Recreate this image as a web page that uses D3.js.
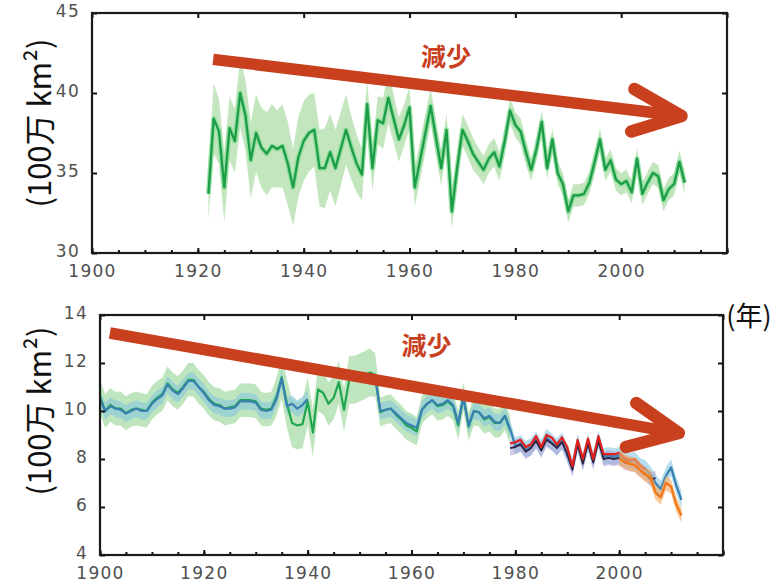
<!DOCTYPE html>
<html><head><meta charset="utf-8">
<script src="https://cdn.jsdelivr.net/npm/d3@7"></script>
<style>
html,body{margin:0;padding:0;background:#fff;}
svg{display:block;}
.tick text{font-family:"DejaVu Sans",sans-serif;font-size:17px;letter-spacing:1.3px;fill:#505050;}
</style></head>
<body>
<svg id="c" width="784" height="583"></svg>
<script>
// ---------- DATA ----------
// Top panel: 1922-2012
const topStart = 1922;
const topVals = [
33.7, 38.4, 37.6, 34.1, 37.8, 37.0, 40.0, 38.6, 35.8, 37.5,
36.6, 36.2, 36.7, 36.5, 36.7, 35.6, 34.1, 36.0, 37.0, 37.5,
37.7, 35.3, 35.3, 36.3, 35.3, 36.5, 37.7, 36.6, 35.6, 34.9,
39.3, 35.3, 38.3, 38.1, 39.7, 38.4, 37.1, 38.0, 39.1, 34.1,
35.8, 37.5, 39.2, 37.2, 35.3, 37.7, 32.6, 35.3, 37.7, 37.0,
36.2, 35.7, 35.2, 35.9, 36.3, 35.4, 37.0, 38.9, 38.0, 37.6,
36.3, 35.2, 36.5, 38.2, 35.3, 37.1, 35.0, 34.3, 32.6, 33.6,
33.6, 33.7, 34.4, 35.7, 37.1, 35.2, 35.8, 34.6, 34.3, 34.5,
33.8, 35.9, 33.7, 34.4, 35.0, 34.8, 33.3, 34.0, 34.3, 35.7,
34.4];
const topSpread = [
1.6, 2.2, 2.0, 2.2, 2.0, 2.0, 2.2, 2.2, 2.4, 2.4,
2.5, 2.6, 2.6, 2.4, 2.6, 2.6, 2.4, 2.5, 2.5, 2.4,
2.3, 2.4, 2.5, 2.4, 2.4, 2.3, 2.2, 2.0, 1.8, 1.6,
1.5, 1.4, 1.5, 1.6, 1.6, 1.5, 1.4, 1.3, 1.3, 1.2,
1.2, 1.2, 1.1, 1.1, 1.1, 1.0, 1.1, 1.0, 1.0, 1.0,
1.0, 0.9, 0.9, 0.9, 0.9, 0.9, 0.8, 0.8, 0.8, 0.8,
0.8, 0.7, 0.7, 0.7, 0.7, 0.7, 0.7, 0.7, 0.7, 0.7,
0.7, 0.7, 0.7, 0.7, 0.7, 0.7, 0.7, 0.7, 0.7, 0.7,
0.7, 0.7, 0.7, 0.7, 0.7, 0.7, 0.7, 0.7, 0.7, 0.7,
0.7];

// Bottom panel
const greenStart = 1900; // 1900-1979
const greenVals = [
10.6, 10.0, 10.25, 10.1, 10.1, 9.9, 10.05, 10.1, 10.05, 10.0,
10.35, 10.55, 10.7, 11.15, 10.9, 10.75, 11.0, 11.3, 11.3, 11.0,
10.8, 10.5, 10.3, 10.25, 10.1, 10.15, 10.2, 10.45, 10.45, 10.45,
10.4, 10.1, 10.05, 10.1, 10.6, 11.4, 10.3, 9.5, 9.4, 9.45,
10.4, 9.1, 10.9, 10.75, 10.3, 10.55, 11.2, 10.05, 11.3, 11.3,
11.4, 11.5, 11.6, 11.5, 9.95, 10.05, 10.1, 9.85, 9.65, 9.4,
9.3, 9.15, 10.05, 10.3, 10.45, 10.2, 10.25, 10.4, 10.2, 9.4,
10.6, 9.35, 10.0, 9.95, 9.65, 9.75, 9.5, 9.5, 9.8, 9.2];
const greenSpread = [
0.7, 0.7, 0.7, 0.7, 0.7, 0.7, 0.7, 0.7, 0.7, 0.7,
0.7, 0.7, 0.7, 0.7, 0.7, 0.7, 0.7, 0.7, 0.7, 0.7,
0.7, 0.7, 0.7, 0.7, 0.7, 0.7, 0.7, 0.7, 0.7, 0.7,
0.7, 0.7, 0.7, 0.7, 0.8, 0.9, 1.0, 1.0, 1.0, 1.0,
1.0, 1.0, 0.9, 0.9, 0.9, 0.9, 0.9, 0.9, 1.0, 1.0,
1.0, 1.0, 1.0, 0.9, 0.6, 0.6, 0.6, 0.6, 0.6, 0.6,
0.6, 0.6, 0.6, 0.6, 0.6, 0.6, 0.6, 0.6, 0.6, 0.6,
0.6, 0.6, 0.6, 0.6, 0.6, 0.6, 0.6, 0.6, 0.6, 0.6];
const blueAStart = 1900; // 1900-1940
const blueAVals = [
10.5, 10.0, 10.2, 10.1, 10.05, 9.9, 10.0, 10.1, 10.0, 10.0,
10.3, 10.5, 10.65, 11.1, 10.85, 10.7, 10.95, 11.25, 11.25, 11.0,
10.75, 10.45, 10.25, 10.2, 10.1, 10.1, 10.15, 10.4, 10.4, 10.4,
10.35, 10.05, 10.0, 10.05, 10.5, 11.35, 10.2, 10.3, 10.1, 10.25, 10.5];
const blueBStart = 1953; // 1953-2012
const blueBVals = [
11.4, 10.0, 10.05, 10.1, 9.9, 9.7, 9.5,
9.4, 9.3, 10.05, 10.3, 10.45, 10.25, 10.3, 10.45, 10.25, 9.5,
10.55, 9.4, 10.0, 9.95, 9.7, 9.8, 9.55, 9.5, 9.8, 9.25,
8.55, 8.65, 8.4, 8.5, 8.8, 8.45, 8.9, 8.7, 8.5, 8.75,
8.2, 7.7, 8.7, 7.9, 8.7, 7.95, 8.85, 8.1, 8.15, 8.1,
8.15, 8.0, 7.9, 7.95, 7.7, 7.6, 7.35, 7.0, 6.75, 7.3, 7.65, 6.9, 6.3];
const blueSpread = 0.35;
const redStart = 1979; // 1979-2005
const redVals = [
8.65, 8.7, 8.8, 8.5, 8.6, 8.95, 8.5, 9.0, 8.9, 8.6,
8.9, 8.5, 7.7, 8.8, 8.0, 8.85, 8.0, 8.95, 8.2, 8.2,
8.2, 8.25, 8.05, 7.95, 8.0, 7.75, 7.55];
const darkStart = 1979; // 1979-2007
const darkVals = [
8.45, 8.5, 8.6, 8.3, 8.45, 8.75, 8.35, 8.8, 8.65, 8.45,
8.7, 8.2, 7.55, 8.6, 7.8, 8.65, 7.85, 8.75, 8.0, 8.05,
8.0, 8.05, 7.85, 7.8, 7.75, 7.55, 7.4, 7.15, 7.2];
const orangeStart = 2000; // 2000-2012
const orangeVals = [8.0, 7.9, 7.8, 7.75, 7.55, 7.35, 7.25, 6.6, 6.4, 7.0, 6.85, 6.1, 5.65];
const modernSpread = 0.3;

const xMajor = [1900, 1920, 1940, 1960, 1980, 2000, 2020];
const xLabels = [1900, 1920, 1940, 1960, 1980, 2000];
const xMinor = d3.range(1900, 2021, 5);
const topYTicks = [30, 35, 40, 45];
const botYTicks = [4, 6, 8, 10, 12, 14];
const yLabel = "(100万 km²)";
const xUnit = "(年)";
const trendLabel = "減少";
// arrows in data units: [start, tip, upperArm, lowerArm]
const topArrow = [[1922.9, 42.1], [2011.4, 38.56], [2002.5, 40.25], [2001.9, 37.6]];
const botArrow = [[1901.9, 13.25], [2011.5, 9.08], [2003.3, 10.33], [2001.3, 8.5]];
const topTextPos = [1966.9, 42.4];
const botTextPos = [1962.9, 12.8];

// ---------- DRAW ----------
const svg = d3.select("#c");
const toSeries = (start, vals, spread) => vals.map((v, i) => ({
  x: start + i, y: v,
  s: Array.isArray(spread) ? spread[i] : spread
}));

function panel(x, y, yTicks, xPad) {
  const g = svg.append("g");
  const axB = d3.axisBottom(x).tickValues(xMajor).tickSize(-5).tickPadding(xPad)
    .tickFormat(d => xLabels.includes(d) ? d : "");
  const axMin = d3.axisBottom(x).tickValues(xMinor).tickSize(-3).tickFormat("");
  const axT = d3.axisTop(x).tickValues(xMajor).tickSize(-5).tickFormat("");
  const axL = d3.axisLeft(y).tickValues(yTicks).tickSize(-5).tickPadding(12);
  const axR = d3.axisRight(y).tickValues(yTicks).tickSize(-5).tickFormat("");
  const [x0, x1] = x.range(), [y1, y0] = y.range();
  const style = s => { s.select(".domain").remove(); s.selectAll("line").attr("stroke", "#111").attr("stroke-width", 2); };
  g.append("g").attr("transform", `translate(0,${y1})`).call(axMin).call(style);
  g.append("g").attr("transform", `translate(0,${y1})`).call(axB).call(style);
  g.append("g").attr("transform", `translate(0,${y0})`).call(axT).call(style);
  const gl = g.append("g").attr("transform", `translate(${x0},0)`).call(axL).call(style);
  gl.selectAll("text").attr("dy", "0.2em");
  g.append("g").attr("transform", `translate(${x1},0)`).call(axR).call(style);
  g.append("rect").attr("x", x0).attr("y", y0).attr("width", x1 - x0).attr("height", y1 - y0)
    .attr("fill", "none").attr("stroke", "#1a1a1a").attr("stroke-width", 2.2);
}

function band(x, y, data, fill, op) {
  svg.append("path").datum(data)
    .attr("d", d3.area().x(d => x(d.x)).y0(d => y(d.y - d.s)).y1(d => y(d.y + d.s)))
    .attr("fill", fill).attr("opacity", op);
}
function line(x, y, data, color, w, op = 1) {
  svg.append("path").datum(data)
    .attr("d", d3.line().x(d => x(d.x)).y(d => y(d.y)))
    .attr("fill", "none").attr("stroke", color).attr("stroke-width", w)
    .attr("stroke-linejoin", "round").attr("opacity", op);
}
function arrow(x, y, a, textPos) {
  const col = "#c9401f";
  const P = p => [x(p[0]), y(p[1])];
  const [s, t, u, l] = a.map(P);
  svg.append("line").attr("x1", s[0]).attr("y1", s[1]).attr("x2", t[0] - 4).attr("y2", t[1] - 0.5)
    .attr("stroke", col).attr("stroke-width", 11.5);
  svg.append("path").attr("d", `M${u[0]},${u[1]}L${t[0]},${t[1]}L${l[0]},${l[1]}`)
    .attr("fill", "none").attr("stroke", col).attr("stroke-width", 12.5)
    .attr("stroke-linecap", "round").attr("stroke-linejoin", "round");
  svg.append("text").attr("x", x(textPos[0])).attr("y", y(textPos[1]))
    .attr("text-anchor", "middle").attr("dominant-baseline", "central")
    .attr("font-family", "'Noto Sans CJK JP', sans-serif").attr("font-weight", "bold")
    .attr("font-size", 25).attr("fill", col).text(trendLabel);
}

// Top panel
const xT = d3.scaleLinear().domain([1900, 2020]).range([92, 727]);
const yT = d3.scaleLinear().domain([30, 45]).range([253, 13]);
const topData = toSeries(topStart, topVals, topSpread);
band(xT, yT, topData, "#b9e2b4", 0.85);
line(xT, yT, topData, "#7fdc8f", 5, 0.7);
line(xT, yT, topData, "#1c9c48", 2.3);
panel(xT, yT, topYTicks, 12);
arrow(xT, yT, topArrow, topTextPos);

// Bottom panel
const xB = d3.scaleLinear().domain([1900, 2020]).range([100, 723]);
const yB = d3.scaleLinear().domain([4, 14]).range([555, 315]);
const gData = toSeries(greenStart, greenVals, greenSpread);
const bA = toSeries(blueAStart, blueAVals, blueSpread);
const bB = toSeries(blueBStart, blueBVals, blueSpread);
const rD = toSeries(redStart, redVals, modernSpread);
const dD = toSeries(darkStart, darkVals, modernSpread);
const oD = toSeries(orangeStart, orangeVals, modernSpread);
band(xB, yB, gData, "#a9dca8", 0.75);
band(xB, yB, bA, "#86c6dd", 0.6);
band(xB, yB, bB, "#86c6dd", 0.6);
band(xB, yB, dD, "#aa9dd6", 0.55);
line(xB, yB, gData, "#1fa64e", 2.2);
line(xB, yB, bA, "#3a80b2", 2.2);
line(xB, yB, bB, "#3a80b2", 2.2);
line(xB, yB, dD, "#2b2340", 1.8);
line(xB, yB, rD, "#e3201b", 2.2);
band(xB, yB, oD, "#f6ad66", 0.65);
line(xB, yB, oD, "#f3791b", 2.4);
panel(xB, yB, botYTicks, 11.5);
arrow(xB, yB, botArrow, botTextPos);

// Axis titles
const lab = (cx, cy) => svg.append("text").attr("transform", `translate(${cx},${cy}) rotate(-90)`)
  .attr("text-anchor", "middle").attr("dominant-baseline", "central")
  .attr("font-family", "'Noto Sans CJK JP', sans-serif").attr("font-size", 31).attr("fill", "#111").text(yLabel);
lab(37, 123);
lab(37, 411);
svg.append("text").attr("x", 749).attr("y", 314).attr("text-anchor", "middle").attr("dominant-baseline", "central")
  .attr("font-family", "'Noto Sans CJK JP', sans-serif").attr("font-size", 27).attr("fill", "#111").text(xUnit);
</script>
</body></html>
